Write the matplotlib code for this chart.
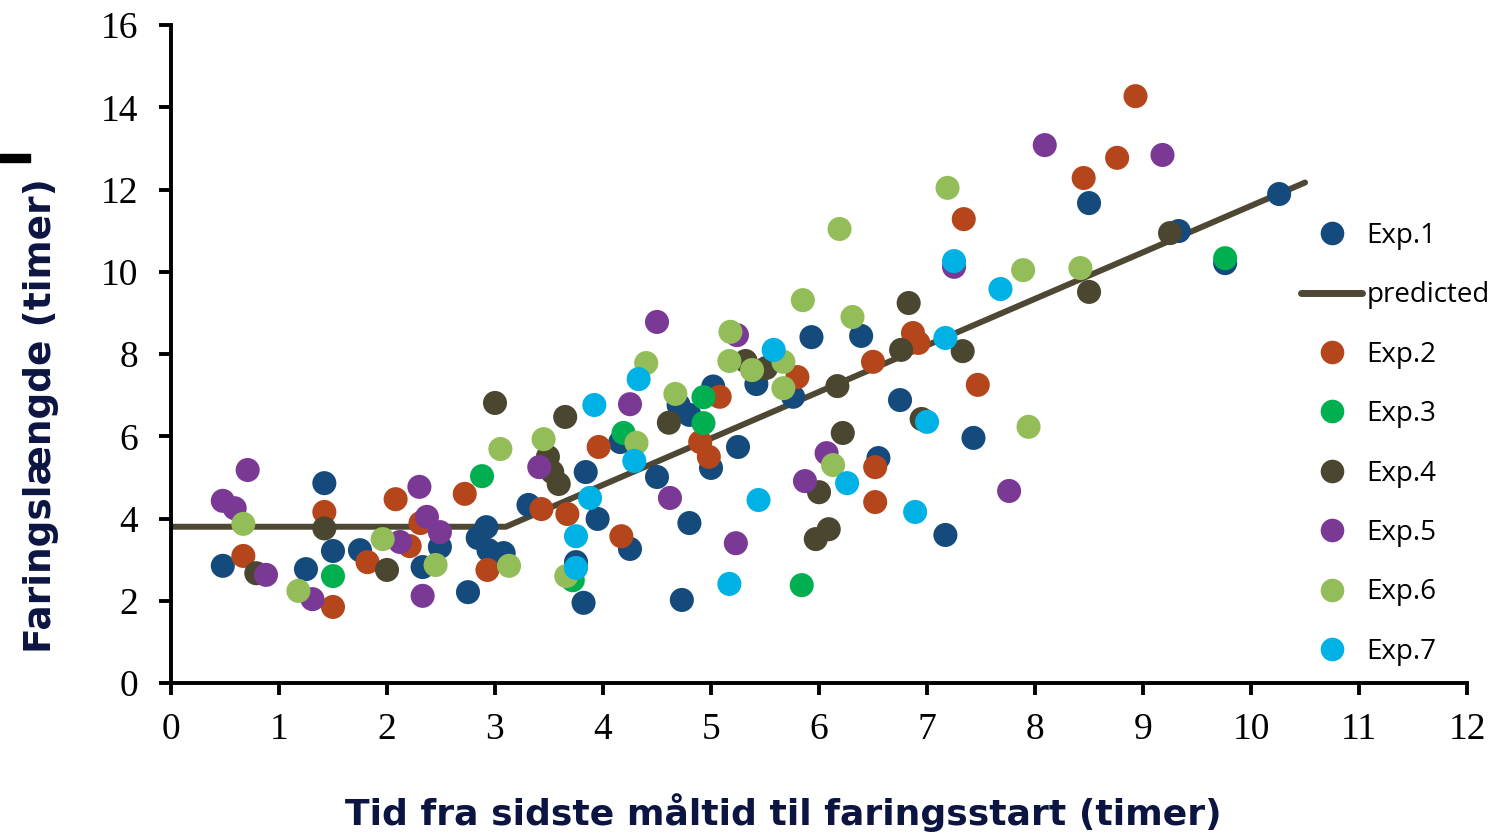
import matplotlib
matplotlib.use("Agg")
import matplotlib.pyplot as plt
from matplotlib.lines import Line2D
from matplotlib.patches import Rectangle

# Observations per experiment: (time since last meal, farrowing duration), hours
exp1 = [(0.48, 2.85), (1.25, 2.77), (1.42, 4.86), (1.50, 3.21), (1.75, 3.23), (2.33, 2.82),
        (2.49, 3.31), (2.75, 2.21), (2.84, 3.53), (2.92, 3.79), (2.94, 3.23), (3.08, 3.16),
        (3.31, 4.33), (3.75, 2.94), (3.82, 1.95), (3.84, 5.13), (3.95, 3.99), (4.16, 5.86),
        (4.25, 3.26), (4.50, 5.01), (4.70, 6.76), (4.73, 2.02), (4.80, 3.89), (4.80, 6.52),
        (5.00, 5.23), (5.02, 7.21), (5.25, 5.74), (5.42, 7.27), (5.76, 6.96), (5.93, 8.41),
        (6.39, 8.44), (6.55, 5.47), (6.75, 6.88), (7.17, 3.60), (7.43, 5.96), (8.50, 11.67),
        (9.33, 10.99), (9.76, 10.21), (10.26, 11.89)]
exp2 = [(0.67, 3.09), (1.42, 4.16), (1.50, 1.85), (1.82, 2.94), (2.08, 4.47), (2.21, 3.33),
        (2.31, 3.89), (2.72, 4.60), (2.93, 2.75), (3.43, 4.23), (3.67, 4.11), (3.96, 5.74),
        (4.17, 3.57), (4.90, 5.86), (4.98, 5.50), (5.08, 6.96), (5.80, 7.44), (6.50, 7.81),
        (6.52, 5.25), (6.52, 4.40), (6.87, 8.51), (6.92, 8.27), (7.34, 11.28), (7.47, 7.25),
        (8.45, 12.28), (8.76, 12.77), (8.93, 14.27)]
exp3 = [(1.50, 2.60), (2.88, 5.03), (3.72, 2.50), (4.19, 6.08), (4.93, 6.95), (4.93, 6.32),
        (5.84, 2.38), (9.76, 10.33)]
exp4 = [(0.79, 2.67), (1.42, 3.76), (2.00, 2.75), (3.00, 6.81), (3.49, 5.50), (3.53, 5.13),
        (3.59, 4.84), (3.65, 6.47), (4.61, 6.33), (5.32, 7.83), (5.51, 7.66), (5.97, 3.50),
        (6.00, 4.64), (6.09, 3.74), (6.17, 7.22), (6.22, 6.08), (6.76, 8.10), (6.83, 9.24),
        (6.95, 6.42), (7.33, 8.07), (8.50, 9.51), (9.25, 10.94)]
exp5 = [(0.48, 4.43), (0.59, 4.25), (0.71, 5.18), (0.88, 2.63), (1.31, 2.04), (2.12, 3.43),
        (2.30, 4.77), (2.33, 2.12), (2.37, 4.04), (2.49, 3.67), (3.41, 5.25), (4.25, 6.78),
        (4.50, 8.78), (4.62, 4.50), (5.23, 3.40), (5.24, 8.46), (5.87, 4.91), (6.07, 5.59),
        (7.25, 10.12), (7.76, 4.67), (8.09, 13.08), (9.18, 12.84)]
exp6 = [(0.67, 3.87), (1.18, 2.24), (1.96, 3.50), (2.45, 2.87), (3.05, 5.69), (3.13, 2.85),
        (3.45, 5.93), (3.66, 2.60), (4.31, 5.84), (4.40, 7.78), (4.67, 7.03), (5.17, 7.83),
        (5.18, 8.54), (5.38, 7.61), (5.67, 7.81), (5.67, 7.17), (5.85, 9.31), (6.13, 5.30),
        (6.19, 11.04), (6.31, 8.90), (7.19, 12.04), (7.89, 10.04), (7.94, 6.23), (8.42, 10.09)]
exp7 = [(3.75, 3.57), (3.75, 2.80), (3.88, 4.50), (3.92, 6.76), (4.29, 5.40), (4.33, 7.39),
        (5.17, 2.41), (5.44, 4.45), (5.58, 8.10), (6.26, 4.86), (6.89, 4.16), (7.00, 6.35),
        (7.17, 8.39), (7.25, 10.26), (7.68, 9.58)]

# broken-line model: flat, then linear increase
pred_x = [0, 3.1, 10.5]
pred_y = [3.8, 3.8, 12.17]

experiments = [exp1, exp2, exp3, exp4, exp5, exp6, exp7]
names = ["Exp.1", "Exp.2", "Exp.3", "Exp.4", "Exp.5", "Exp.6", "Exp.7"]
colors = ["#144a7c", "#b5461c", "#00b050", "#4b4630", "#7b3996", "#93bd58", "#00b1e5"]
line_color = "#4d4733"
label_color = "#0c1442"

fig = plt.figure(figsize=(15.01, 8.39), dpi=100)
ax = fig.add_axes([0.1139, 0.1859, 0.8635, 0.7843])

ax.plot(pred_x, pred_y, color=line_color, lw=4.3, solid_capstyle="round", zorder=2)
for data, c in zip(experiments, colors):
    xs = [p[0] for p in data]
    ys = [p[1] for p in data]
    ax.scatter(xs, ys, s=300, color=c, edgecolors="none", zorder=3)

ax.set_xlim(0, 12)
ax.set_ylim(0, 16)
ax.set_xticks(range(0, 13))
ax.set_yticks(range(0, 17, 2))
for s in ["top", "right"]:
    ax.spines[s].set_visible(False)
for s in ["left", "bottom"]:
    ax.spines[s].set_linewidth(2.8)
ax.tick_params(direction="out", length=8.5, width=2.8)
ax.tick_params(axis="y", pad=15)
ax.tick_params(axis="x", pad=13)
for lab in ax.get_xticklabels() + ax.get_yticklabels():
    lab.set_fontfamily("Liberation Serif")
    lab.set_fontsize(27)

fig.text(0.522, 0.032, "Tid fra sidste måltid til faringsstart (timer)", ha="center", va="center",
         fontsize=26, fontweight="bold", color=label_color, family="DejaVu Sans")
fig.text(0.027, 0.505, "Faringslængde (timer)", ha="center", va="center", rotation=90,
         fontsize=27, fontweight="bold", color=label_color, family="DejaVu Sans")

# legend: Exp.1, predicted, then the rest
handles = [Line2D([], [], ls="none", marker="o", ms=17, mec="none", color=colors[0]),
           Line2D([], [], color=line_color, lw=5, solid_capstyle="round")]
labels = [names[0], "predicted"]
for c, n in zip(colors[1:], names[1:]):
    handles.append(Line2D([], [], ls="none", marker="o", ms=17, mec="none", color=c))
    labels.append(n)
fig.legend(handles, labels, loc="center left", bbox_to_anchor=(0.8595, 0.471), frameon=False,
           prop={"family": "Open Sans", "size": 20}, handlelength=2.2, handletextpad=0.15,
           labelspacing=1.13, borderaxespad=0)

# small black mark at the top left edge
fig.patches.append(Rectangle((0, 0.807), 0.02, 0.009, transform=fig.transFigure,
                             color="black", zorder=5))

fig.savefig("out.png", dpi=100)
